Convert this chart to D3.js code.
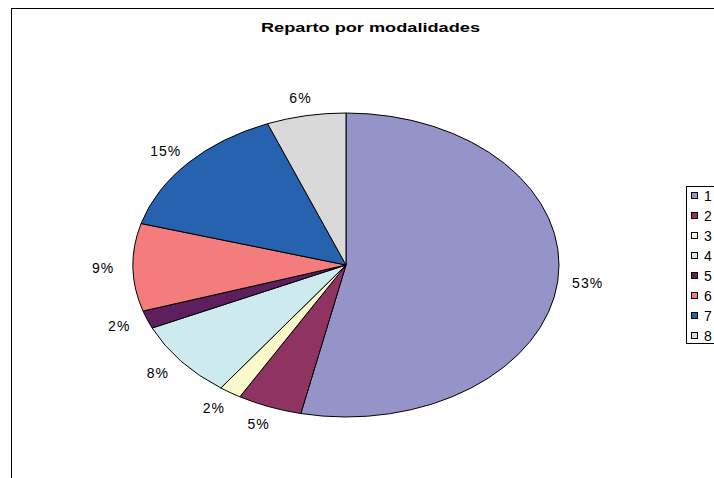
<!DOCTYPE html>
<html>
<head>
<meta charset="utf-8">
<script src="https://cdn.jsdelivr.net/npm/d3@7"></script>
<style>
  html, body { margin: 0; padding: 0; background: #fff; }
  svg { display: block; }
  text { font-family: Arial, "Liberation Sans", sans-serif; }
</style>
</head>
<body>
<svg id="chart" width="714" height="478"></svg>
<script>
const title = "Reparto por modalidades";
const categories = ["1", "2", "3", "4", "5", "6", "7", "8"];
const values = [53.4, 4.9, 1.7, 8.2, 1.9, 9.3, 14.6, 6.0];
const colors = ["#9494c8", "#8f3462", "#fbf8cc", "#cdebef", "#5e1f5f", "#f47c7c", "#2662ad", "#d9d9d9"];

const svg = d3.select("#chart");
const W = 714, H = 478;

svg.append("rect").attr("x", 0).attr("y", 0).attr("width", W).attr("height", H).attr("fill", "#fff");
// outer chart frame (extends past the right/bottom edge)
svg.append("rect")
  .attr("x", 11.5).attr("y", 8.5).attr("width", 900).attr("height", 900)
  .attr("fill", "none").attr("stroke", "#000").attr("stroke-width", 1);

svg.append("text")
  .attr("x", 261).attr("y", 32)
  .attr("font-size", 13.5).attr("font-weight", "bold")
  .attr("textLength", 219)
  .attr("lengthAdjust", "spacingAndGlyphs")
  .text(title);

const cx = 346, cy = 265, rx = 213, ry = 152;
const data = categories.map((c, i) => ({ cat: c, value: values[i], color: colors[i] }));
const pie = d3.pie().value(d => d.value).sort(null);
const arcs = pie(data);
const arc = d3.arc().innerRadius(0).outerRadius(rx);

const g = svg.append("g").attr("transform", `translate(${cx},${cy}) scale(1,${ry / rx})`);
g.selectAll("path").data(arcs).join("path")
  .attr("d", arc)
  .attr("fill", d => d.data.color)
  .attr("stroke", "#000")
  .attr("stroke-width", 1)
  .attr("vector-effect", "non-scaling-stroke");

// percentage labels placed on an enlarged ellipse at mid-angle
const total = d3.sum(values);
const lrx = rx + 30, lry = ry + 18;
svg.append("g").selectAll("text").data(arcs).join("text")
  .attr("x", d => { const a = (d.startAngle + d.endAngle) / 2; return cx + lrx * Math.sin(a); })
  .attr("y", d => { const a = (d.startAngle + d.endAngle) / 2; return cy - lry * Math.cos(a); })
  .attr("dy", "0.36em")
  .attr("text-anchor", "middle")
  .attr("font-size", 14)
  .attr("letter-spacing", "1px")
  .attr("fill", "#000")
  .text(d => Math.round(d.data.value / total * 100) + "%");

// legend (clipped at right edge like the reference)
const lg = svg.append("g");
lg.append("rect")
  .attr("x", 686.5).attr("y", 186.5).attr("width", 80).attr("height", 157)
  .attr("fill", "#fff").attr("stroke", "#000").attr("stroke-width", 1);
const ly = d3.scalePoint().domain(categories).range([196, 336]);
lg.selectAll("rect.sw").data(data).join("rect")
  .attr("class", "sw")
  .attr("x", 691.5).attr("y", d => ly(d.cat) - 3.5)
  .attr("width", 6).attr("height", 6)
  .attr("fill", d => d.color).attr("stroke", "#000").attr("stroke-width", 1);
lg.selectAll("text").data(data).join("text")
  .attr("x", 704).attr("y", d => ly(d.cat))
  .attr("dy", "0.36em")
  .attr("font-size", 14)
  .text(d => d.cat);
</script>
</body>
</html>
